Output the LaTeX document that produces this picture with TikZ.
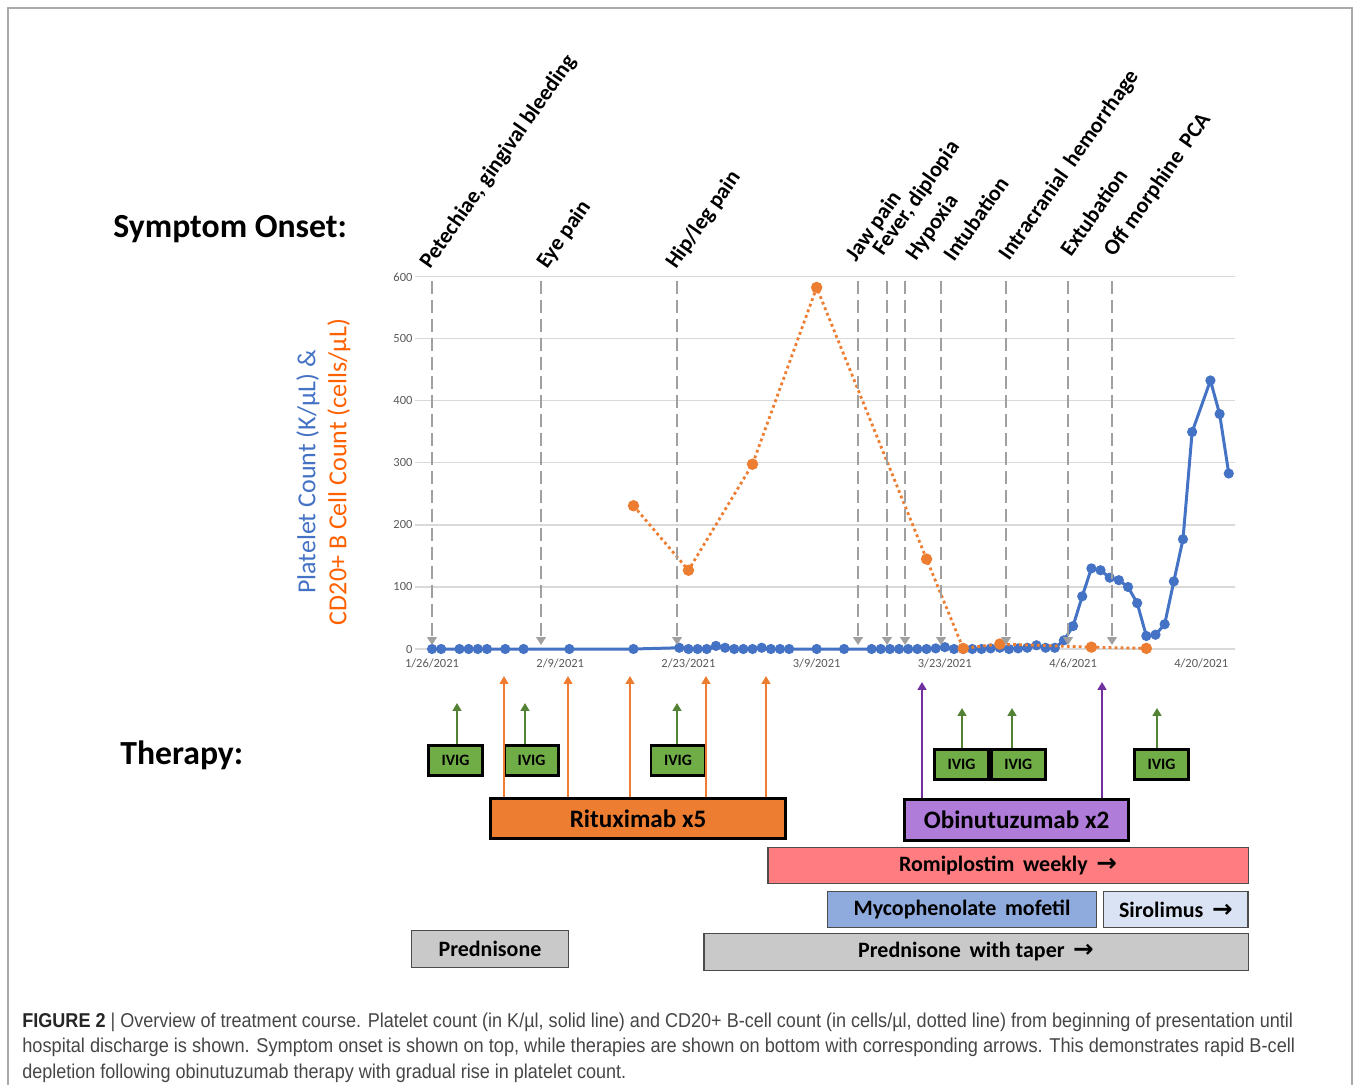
\documentclass[tikz,border=0pt]{standalone}
\usepackage{fontspec}
\usepackage{graphicx}
\setmainfont{Carlito}
\newfontfamily\captionfont{Liberation Sans}
\newfontfamily\arrowfont{DejaVu Sans}
\usetikzlibrary{arrows.meta,positioning}

\definecolor{plateletblue}{RGB}{68,114,196}
\definecolor{cdorange}{RGB}{237,125,49}
\definecolor{labelorange}{RGB}{255,96,0}
\definecolor{onsetgray}{RGB}{160,160,160}
\definecolor{gridgray}{RGB}{217,217,217}
\definecolor{tickgray}{RGB}{89,89,89}
\definecolor{framegray}{RGB}{170,170,170}
\definecolor{ivigfill}{RGB}{112,173,71}
\definecolor{ivigline}{RGB}{84,130,53}
\definecolor{ritfill}{RGB}{237,125,49}
\definecolor{obifill}{RGB}{176,124,218}
\definecolor{obiline}{RGB}{112,48,160}
\definecolor{romifill}{RGB}{255,124,128}
\definecolor{mycofill}{RGB}{143,170,220}
\definecolor{sirofill}{RGB}{218,227,243}
\definecolor{predfill}{RGB}{201,201,201}
\definecolor{captiontext}{RGB}{70,70,70}

\tikzset{
    onset/.style={
        rotate=55,                 % etiquetas inclinadas sobre el eje
        anchor=base west,
        inner sep=0pt,
        font=\bfseries\fontsize{12.6}{14}\selectfont
    },
    onsetline/.style={
        draw=onsetgray,
        line width=1.5pt,
        dash pattern=on 7.4pt off 3.4pt,
        -{Triangle[width=5.5pt,length=4.5pt]}
    },
    gridline/.style={draw=gridgray, line width=0.6pt},
    ticklabel/.style={text=tickgray, inner sep=0pt, font=\fontsize{7.1}{8}\selectfont},
    plateletline/.style={
        draw=plateletblue, line width=1.7pt,
        mark=*, mark size=2pt, mark options={fill=plateletblue, draw=plateletblue}
    },
    cdline/.style={
        draw=cdorange, line width=1.6pt,
        dash pattern=on 1.6pt off 1.8pt,
        mark=*, mark size=2.4pt, mark options={solid, fill=cdorange, draw=cdorange}
    },
    drugbox/.style={
        rectangle,
        draw=black,
        line width=1.7pt,          % borde grueso como en las terapias principales
        fill=#1,
        inner sep=0pt,
        font=\bfseries\fontsize{14.3}{16}\selectfont
    },
    ivigbox/.style={
        rectangle,
        draw=black,
        line width=1.6pt,
        fill=ivigfill,
        minimum width=1.08cm,
        minimum height=0.6cm,
        inner sep=0pt,
        font=\bfseries\fontsize{9}{10}\selectfont
    },
    spanbox/.style={
        rectangle,
        draw=black!70,             % borde fino para las terapias de fondo
        line width=0.8pt,
        fill=#1,
        minimum height=0.71cm,
        inner sep=0pt,
        font=\bfseries\fontsize{12.5}{14}\selectfont
    },
    ritarrow/.style={draw=cdorange, line width=1.1pt, -{Triangle[width=5pt,length=4.5pt]}},
    obiarrow/.style={draw=obiline, line width=1.1pt, -{Triangle[width=5pt,length=4.5pt]}},
    ivigarrow/.style={draw=ivigline, line width=1.1pt, -{Triangle[width=5pt,length=4.5pt]}},
    heading/.style={anchor=base west, inner sep=0pt, font=\bfseries\fontsize{19.2}{22}\selectfont},
    axislabel/.style={rotate=90, inner sep=0pt, font=\fontsize{14.8}{16}\selectfont},
    captionline/.style={anchor=base west, inner sep=0pt, text=captiontext, font=\captionfont\fontsize{11.4}{12}\selectfont}
}

\begin{document}
\begin{tikzpicture}[x=0.02cm, y=-0.02cm]
    \useasboundingbox (0,0) rectangle (1354,1084);
    \draw[framegray, line width=0.8pt] (8,1095) -- (8,8) -- (1352,8) -- (1352,1095);

    % encabezados
    \node[heading] (onsettitle) at (113,238) {Symptom Onset:};
    \node[heading] (therapytitle) at (120,764) {Therapy:};

    % ejes y rejilla
    \begin{scope}[shift={(432,649)}, x=0.1832cm, y=0.0124cm]
        \draw[gridline] (-1.86,0) -- (87.7,0) (-1.86,100) -- (87.7,100) (-1.86,200) -- (87.7,200)
                        (-1.86,300) -- (87.7,300) (-1.86,400) -- (87.7,400) (-1.86,500) -- (87.7,500)
                        (-1.86,600) -- (87.7,600);
        \node[ticklabel, anchor=east] (v0) at (-2.1,0) {0};
        \node[ticklabel, anchor=east] (v100) at (-2.1,100) {100};
        \node[ticklabel, anchor=east] (v200) at (-2.1,200) {200};
        \node[ticklabel, anchor=east] (v300) at (-2.1,300) {300};
        \node[ticklabel, anchor=east] (v400) at (-2.1,400) {400};
        \node[ticklabel, anchor=east] (v500) at (-2.1,500) {500};
        \node[ticklabel, anchor=east] (v600) at (-2.1,600) {600};
        \node[ticklabel] (d0) at (0,-24) {1/26/2021};
        \node[ticklabel] (d14) at (14,-24) {2/9/2021};
        \node[ticklabel] (d28) at (28,-24) {2/23/2021};
        \node[ticklabel] (d42) at (42,-24) {3/9/2021};
        \node[ticklabel] (d56) at (56,-24) {3/23/2021};
        \node[ticklabel] (d70) at (70,-24) {4/6/2021};
        \node[ticklabel] (d84) at (84,-24) {4/20/2021};

        % recuento de plaquetas
        \draw[plateletline] plot coordinates {(0,0) (1,0) (3,0) (4,0) (5,0) (6,0) (8,0) (10,0) (15,0) (22,0)
            (27,2) (28,0) (29,0) (30,0) (31,5) (32,2) (33,0) (34,0) (35,0) (36,2) (37,0) (38,0) (39,0)
            (42,0) (45,0) (48,0) (49,0) (50,0) (51,0) (52,0) (53,0) (54,0) (55,1) (56,3) (57,0) (58,0)
            (59,0) (60,0) (61,1) (62,2) (63,0) (64,1) (65,2) (66,6) (67,2) (68,2) (69,14) (70,37) (71,85)
            (72,130) (73,127) (74,115) (75,111) (76,100) (77,74) (78,21) (79,23) (80,40) (81,109)
            (82,177) (83,350) (85,433) (86,379) (87,283)};
        % linfocitos B CD20+
        \draw[cdline] plot coordinates {(22,231) (28,127) (35,298) (42,583) (54,145) (58,1) (62,8) (72,3) (78,1)};
    \end{scope}

    \node[axislabel, text=plateletblue] (plateletlabel) at (308,472) {Platelet Count (K/µL) \&};
    \node[axislabel, text=labelorange] (cdlabel) at (339,472) {CD20+ B Cell Count (cells/µL)};

    % inicio de sintomas
    \coordinate (onsetend) at (0,645);
    \node[onset] (petechiae) at (430,270) {Petechiae, gingival bleeding};
    \node[onset] (eyepain) at (547,270) {Eye pain};
    \node[onset] (hippain) at (676,270) {Hip/leg pain};
    \node[onset] (jawpain) at (856,263) {Jaw pain};
    \node[onset] (fever) at (883,257) {Fever, diplopia};
    \node[onset] (hypoxia) at (916,262) {Hypoxia};
    \node[onset] (intubation) at (954,263) {Intubation};
    \node[onset] (hemorrhage) at (1009,262) {Intracranial\, hemorrhage};
    \node[onset] (extubation) at (1071,258) {Extubation};
    \node[onset] (morphine) at (1114,258) {Off morphine\, PCA};

    \coordinate (petechiaeline) at (432,281);
    \coordinate (eyeline) at (541,281);
    \coordinate (hipline) at (677,281);
    \coordinate (jawline) at (858,281);
    \coordinate (feverline) at (887,281);
    \coordinate (hypoxialine) at (905,281);
    \coordinate (intubationline) at (941,281);
    \coordinate (hemorrhageline) at (1006,281);
    \coordinate (extubationline) at (1068,281);
    \coordinate (morphineline) at (1112,281);

    \draw[onsetline] (petechiaeline) -- (petechiaeline |- onsetend);
    \draw[onsetline] (eyeline) -- (eyeline |- onsetend);
    \draw[onsetline] (hipline) -- (hipline |- onsetend);
    \draw[onsetline] (jawline) -- (jawline |- onsetend);
    \draw[onsetline] (feverline) -- (feverline |- onsetend);
    \draw[onsetline] (hypoxialine) -- (hypoxialine |- onsetend);
    \draw[onsetline] (intubationline) -- (intubationline |- onsetend);
    \draw[onsetline] (hemorrhageline) -- (hemorrhageline |- onsetend);
    \draw[onsetline] (extubationline) -- (extubationline |- onsetend);
    \draw[onsetline] (morphineline) -- (morphineline |- onsetend);

    % terapias
    \node[ivigbox] (ivigA) at (455.5,760.5) {IVIG};
    \node[ivigbox] (ivigB) at (531.5,760.5) {IVIG};
    \node[ivigbox] (ivigC) at (678,760.5) {IVIG};
    \node[ivigbox] (ivigD) at (961.5,764.5) {IVIG};
    \node[ivigbox, right=0pt of ivigD] (ivigE) {IVIG};
    \node[ivigbox] (ivigF) at (1161.5,764.5) {IVIG};

    \node[drugbox=ritfill, minimum width=5.9cm, minimum height=0.8cm] (rituximab) at (638,818.5) {Rituximab x5};
    \node[drugbox=obifill, minimum width=4.48cm, minimum height=0.82cm] (obinutuzumab) at (1016.5,820) {Obinutuzumab x2};
    \node[spanbox=romifill, minimum width=9.61cm] (romiplostim) at (1008,865.5) {Romiplostim\, weekly\, {\arrowfont\fontsize{14}{14}\selectfont →}};
    \node[spanbox=mycofill, minimum width=5.37cm] (mycophenolate) at (962,909.5) {Mycophenolate\, mofetil};
    \node[spanbox=sirofill, minimum width=2.89cm, right=0.12cm of mycophenolate] (sirolimus) {Sirolimus\, {\arrowfont\fontsize{14}{14}\selectfont →}};
    \node[spanbox=predfill, minimum width=10.89cm, minimum height=0.73cm] (predtaper) at (976,952) {Prednisone\, with taper\, {\arrowfont\fontsize{14}{14}\selectfont →}};
    \node[spanbox=predfill, minimum width=3.13cm, minimum height=0.73cm] (prednisone) at (490,949) {Prednisone};

    \coordinate (ritA) at (504,676);
    \coordinate (ritB) at (568,676);
    \coordinate (ritC) at (630,676);
    \coordinate (ritD) at (706,676);
    \coordinate (ritE) at (766,676);
    \draw[ritarrow] (rituximab.north -| ritA) -- (ritA);
    \draw[ritarrow] (rituximab.north -| ritB) -- (ritB);
    \draw[ritarrow] (rituximab.north -| ritC) -- (ritC);
    \draw[ritarrow] (rituximab.north -| ritD) -- (ritD);
    \draw[ritarrow] (rituximab.north -| ritE) -- (ritE);

    \coordinate (obiA) at (922,682);
    \coordinate (obiB) at (1102,682);
    \draw[obiarrow] (obinutuzumab.north -| obiA) -- (obiA);
    \draw[obiarrow] (obinutuzumab.north -| obiB) -- (obiB);

    \coordinate (ivigtipA) at (457,703);
    \coordinate (ivigtipB) at (525,703);
    \coordinate (ivigtipC) at (677,703);
    \coordinate (ivigtipD) at (962,708);
    \coordinate (ivigtipE) at (1012,708);
    \coordinate (ivigtipF) at (1157,708);
    \draw[ivigarrow] (ivigA.north -| ivigtipA) -- (ivigtipA);
    \draw[ivigarrow] (ivigB.north -| ivigtipB) -- (ivigtipB);
    \draw[ivigarrow] (ivigC.north -| ivigtipC) -- (ivigtipC);
    \draw[ivigarrow] (ivigD.north -| ivigtipD) -- (ivigtipD);
    \draw[ivigarrow] (ivigE.north -| ivigtipE) -- (ivigtipE);
    \draw[ivigarrow] (ivigF.north -| ivigtipF) -- (ivigtipF);

    % leyenda de la figura
    \node[captionline] (captionA) at (22,1027) {\resizebox{25.42cm}{\height}{\textcolor{black!85}{\textbf{FIGURE 2}} | Overview of treatment course. Platelet count (in K/µl, solid line) and CD20+ B-cell count (in cells/µl, dotted line) from beginning of presentation until}};
    \node[captionline] (captionB) at (22,1052.5) {\resizebox{25.46cm}{\height}{hospital discharge is shown. Symptom onset is shown on top, while therapies are shown on bottom with corresponding arrows. This demonstrates rapid B-cell}};
    \node[captionline] (captionC) at (22,1078) {\resizebox{12.08cm}{\height}{depletion following obinutuzumab therapy with gradual rise in platelet count.}};
\end{tikzpicture}
\end{document}
